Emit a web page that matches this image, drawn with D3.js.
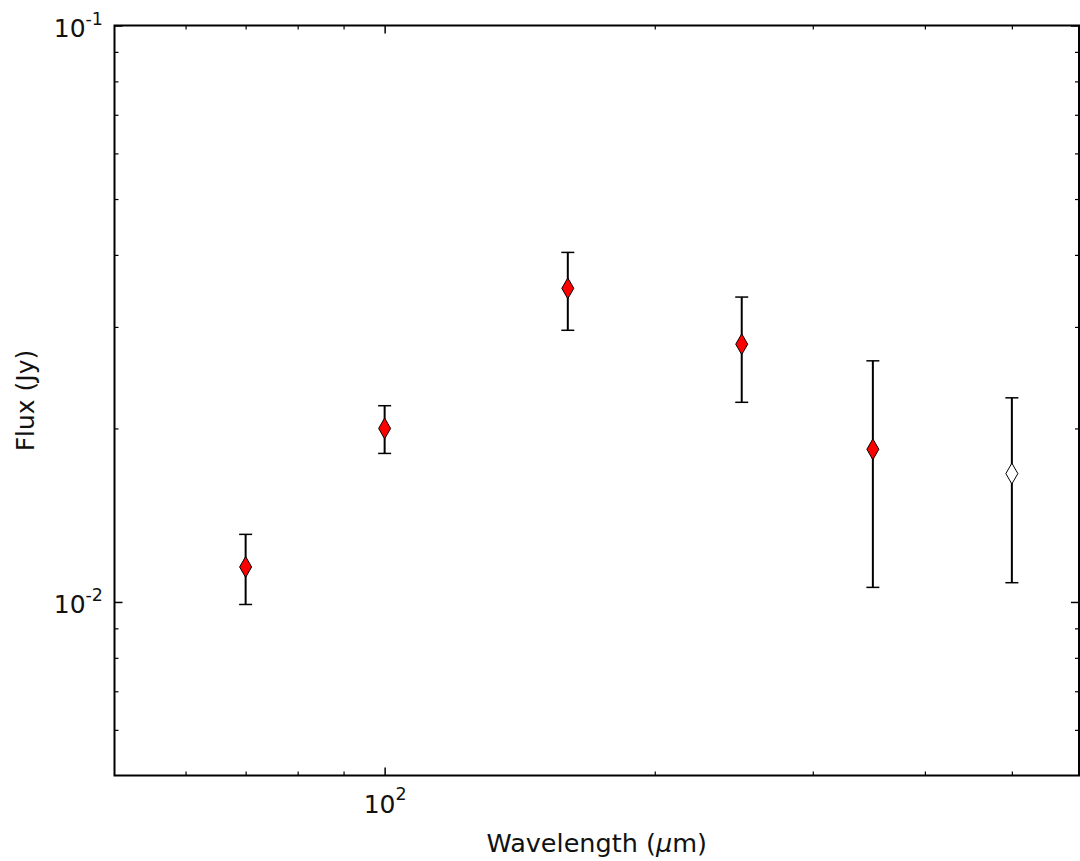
<!DOCTYPE html>
<html>
<head>
<meta charset="utf-8">
<script src="https://cdn.jsdelivr.net/npm/d3@7"></script>
<style>
  html, body { margin: 0; padding: 0; background: #fff; }
  svg { display: block; }
  text { font-family: "DejaVu Sans", sans-serif; fill: #111; }
</style>
</head>
<body>
<svg id="chart" width="1080" height="861"></svg>
<script>
// Photometry of the source: wavelength (micron), flux density (Jy) and 1-sigma errors
const wavelength = [70, 100, 160, 250, 350, 500];
const flux = [0.0115, 0.0200, 0.0350, 0.0280, 0.0184, 0.0167];
const fluxErr = [0.0016, 0.0019, 0.0054, 0.0058, 0.0078, 0.0059];
const detected = [true, true, true, true, true, false];

// Tick positions
const xMajorTicks = [100];
const xMinorTicks = [60, 70, 80, 90, 200, 300, 400, 500];
const yMajorTicks = [0.01, 0.1];
const yMinorTicks = [0.006, 0.007, 0.008, 0.009, 0.02, 0.03, 0.04, 0.05, 0.06, 0.07, 0.08, 0.09];
const xTickLabels = [["10", "2"]];
const yTickLabels = [["10", "-2"], ["10", "-1"]];

const xLabel = "Wavelength (";
const yLabel = "Flux (Jy)";

const W = 1080, H = 861;
const plot = { left: 114.5, right: 1079, top: 25.5, bottom: 775.5 };

const svg = d3.select("#chart");
svg.append("rect").attr("width", W).attr("height", H).attr("fill", "#fff");

const x = d3.scaleLog().domain([50, 594]).range([plot.left, plot.right]);
const y = d3.scaleLog().domain([0.005, 0.1]).range([plot.bottom, plot.top]);

const majorLen = 8, minorLen = 4;

function styleTicks(g, width) {
  g.select(".domain").remove();
  g.selectAll(".tick line").attr("stroke", "#000").attr("stroke-width", width);
}

// Bottom axis (ticks point inward)
svg.append("g").attr("transform", `translate(0,${plot.bottom})`)
  .call(d3.axisBottom(x).tickValues(xMinorTicks).tickSize(-minorLen).tickFormat(""))
  .call(g => styleTicks(g, 1.2));
const gBottom = svg.append("g").attr("transform", `translate(0,${plot.bottom})`)
  .call(d3.axisBottom(x).tickValues(xMajorTicks).tickSize(-majorLen).tickFormat(""))
  .call(g => styleTicks(g, 1.5));
gBottom.selectAll(".tick text").remove();
gBottom.selectAll(".tick").each(function(d, i) {
  const t = d3.select(this).append("text")
    .attr("x", 0).attr("y", 37).attr("text-anchor", "middle")
    .attr("font-size", 25);
  t.append("tspan").text(xTickLabels[i][0]);
  t.append("tspan").attr("dy", -12.5).attr("font-size", 17.5).text(xTickLabels[i][1]);
});

// Top axis
svg.append("g").attr("transform", `translate(0,${plot.top})`)
  .call(d3.axisTop(x).tickValues(xMinorTicks).tickSize(-minorLen).tickFormat(""))
  .call(g => styleTicks(g, 1.2));
svg.append("g").attr("transform", `translate(0,${plot.top})`)
  .call(d3.axisTop(x).tickValues(xMajorTicks).tickSize(-majorLen).tickFormat(""))
  .call(g => styleTicks(g, 1.5));

// Left axis
svg.append("g").attr("transform", `translate(${plot.left},0)`)
  .call(d3.axisLeft(y).tickValues(yMinorTicks).tickSize(-minorLen).tickFormat(""))
  .call(g => styleTicks(g, 1.2));
const gLeft = svg.append("g").attr("transform", `translate(${plot.left},0)`)
  .call(d3.axisLeft(y).tickValues(yMajorTicks).tickSize(-majorLen).tickFormat(""))
  .call(g => styleTicks(g, 1.5));
gLeft.selectAll(".tick text").remove();
gLeft.selectAll(".tick").each(function(d, i) {
  const t = d3.select(this).append("text")
    .attr("x", -11.5).attr("y", 11).attr("text-anchor", "end")
    .attr("font-size", 25);
  t.append("tspan").text(yTickLabels[i][0]);
  t.append("tspan").attr("dy", -12.5).attr("font-size", 17.5).text(yTickLabels[i][1]);
});

// Right axis
svg.append("g").attr("transform", `translate(${plot.right},0)`)
  .call(d3.axisRight(y).tickValues(yMinorTicks).tickSize(-minorLen).tickFormat(""))
  .call(g => styleTicks(g, 1.2));
svg.append("g").attr("transform", `translate(${plot.right},0)`)
  .call(d3.axisRight(y).tickValues(yMajorTicks).tickSize(-majorLen).tickFormat(""))
  .call(g => styleTicks(g, 1.5));

// Frame
svg.append("rect")
  .attr("x", plot.left).attr("y", plot.top)
  .attr("width", plot.right - plot.left).attr("height", plot.bottom - plot.top)
  .attr("fill", "none").attr("stroke", "#000").attr("stroke-width", 2);

// Data
const pts = wavelength.map((w, i) => ({ w, f: flux[i], e: fluxErr[i], det: detected[i] }));
const capHalf = 6.5;

const bars = svg.append("g").attr("stroke", "#000").attr("stroke-width", 2).attr("fill", "none");
pts.forEach(p => {
  const cx = x(p.w), yTop = y(p.f + p.e), yBot = y(p.f - p.e);
  bars.append("line").attr("x1", cx).attr("x2", cx).attr("y1", yTop).attr("y2", yBot);
  bars.append("line").attr("x1", cx - capHalf).attr("x2", cx + capHalf).attr("y1", yTop).attr("y2", yTop).attr("stroke-width", 1.5);
  bars.append("line").attr("x1", cx - capHalf).attr("x2", cx + capHalf).attr("y1", yBot).attr("y2", yBot).attr("stroke-width", 1.5);
});

const diamond = d3.symbol().type(d3.symbolDiamond).size(125);
svg.append("g").selectAll("path").data(pts).join("path")
  .attr("d", diamond)
  .attr("transform", p => `translate(${x(p.w)},${y(p.f)})`)
  .attr("fill", p => p.det ? "#ff0000" : "#ffffff")
  .attr("stroke", "#000").attr("stroke-width", 1);

// Axis titles
const xt = svg.append("text")
  .attr("x", (plot.left + plot.right) / 2).attr("y", 851.5)
  .attr("text-anchor", "middle").attr("font-size", 25.5);
xt.append("tspan").text(xLabel);
xt.append("tspan").attr("font-style", "italic").text("\u03bc");
xt.append("tspan").text("m)");

svg.append("text")
  .attr("transform", `translate(34,${(plot.top + plot.bottom) / 2}) rotate(-90)`)
  .attr("text-anchor", "middle").attr("font-size", 25)
  .text(yLabel);
</script>
</body>
</html>
